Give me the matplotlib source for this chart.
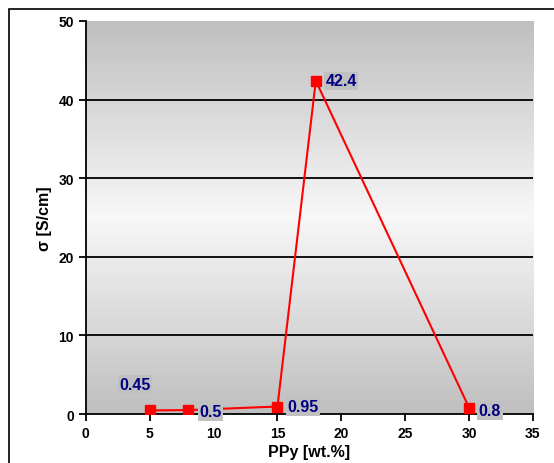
import numpy as np
import matplotlib
matplotlib.use("Agg")
import matplotlib.pyplot as plt
from matplotlib.patches import Rectangle

ppy = [5, 8, 15, 18, 30]
sigma = [0.45, 0.5, 0.95, 42.4, 0.8]
labels = ["0.45", "0.5", "0.95", "42.4", "0.8"]
label_offsets = [(-22, 19), (8, -1), (7, 0), (7, 0), (7, -2)]

plt.rcParams['font.family'] = ['Liberation Sans', 'DejaVu Sans']
fig = plt.figure(figsize=(5.54, 4.64), dpi=100)
ax = fig.add_axes([0.155, 0.1056, 0.807, 0.847])

# figure border
fig.patches.append(Rectangle((9/554, -0.05), 1.0, 1 - 10/464 + 0.05, transform=fig.transFigure,
                             fill=False, edgecolor='black', linewidth=1.2))

# gradient background
grad = np.abs(np.linspace(-1, 1, 256)).reshape(-1, 1)
cols = 0.97 - 0.22 * grad
img = np.dstack([cols, cols, cols])
ax.imshow(img, extent=[0, 35, 0, 50], aspect='auto', origin='lower', zorder=0)

for yv in [10, 20, 30, 40]:
    ax.axhline(yv, color='black', linewidth=1.3, zorder=1)

ax.plot(ppy, sigma, color='red', linewidth=1.5, marker='s', markersize=6.5, zorder=3)
for x, y, t, off in zip(ppy, sigma, labels, label_offsets):
    ax.annotate(t, (x, y), xytext=off, textcoords='offset points', ha='left', va='center',
                color='#000080', fontsize=11.5, fontweight='bold',
                bbox=dict(boxstyle='square,pad=0.1', facecolor='#c0c0c0', edgecolor='none'),
                zorder=4, annotation_clip=False)

ax.set_xlim(0, 35)
ax.set_ylim(0, 50)
ax.set_xticks(range(0, 36, 5))
ax.set_yticks(range(0, 51, 10))
for s in ['top', 'right']:
    ax.spines[s].set_visible(False)
for s in ['left', 'bottom']:
    ax.spines[s].set_linewidth(1.3)
ax.tick_params(axis='both', direction='out', length=5, width=1.3, labelsize=10)
for lab in ax.get_xticklabels() + ax.get_yticklabels():
    lab.set_fontweight('bold')
ax.set_xlabel('PPy [wt.%]', fontsize=11.5, fontweight='bold', labelpad=3)
ax.set_ylabel('σ [S/cm]', fontsize=11.5, fontweight='bold', labelpad=5)

fig.savefig('out.png', dpi=100)
